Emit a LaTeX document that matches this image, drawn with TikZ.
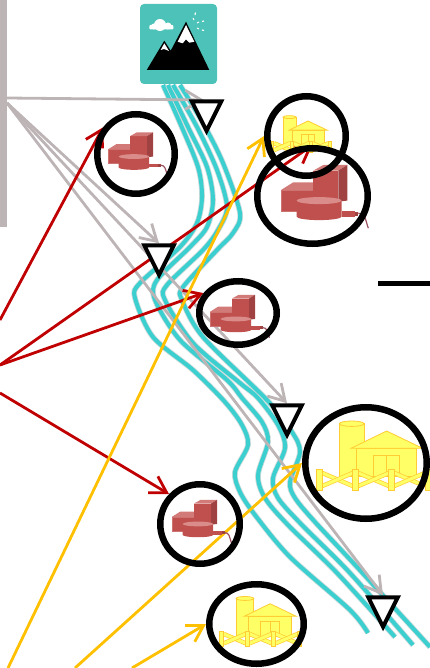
\documentclass[tikz,border=0pt]{standalone}
\usepackage{xcolor}
\usepackage{tikz}
\usetikzlibrary{arrows.meta,shapes.geometric,backgrounds}
\definecolor{FlowTeal}{HTML}{3CCFCF}
\definecolor{FlowHalo}{HTML}{C9DADA}
\definecolor{TileTeal}{HTML}{4DC2B8}
\definecolor{LinkGrey}{HTML}{BDB4B6}
\definecolor{LinkRed}{HTML}{C00000}
\definecolor{LinkGold}{HTML}{FFC000}
\definecolor{PlantRed}{HTML}{C0504D}
\definecolor{PlantDark}{HTML}{A04242}
\definecolor{PlantLight}{HTML}{D98C8A}
\definecolor{PlantCable}{HTML}{9B5060}
\definecolor{FarmYellow}{HTML}{FFFF66}
\definecolor{FarmEdge}{HTML}{FFCC33}
\tikzset{
  flowline/.style={draw=FlowTeal,line width=4pt,preaction={draw=FlowHalo,line width=5.6pt}},
  ring/.style={draw=black,ellipse,line width=6.5pt,inner sep=0pt},
  gauge/.style={draw=black,fill=white,line width=4pt,line join=miter,isosceles triangle,isosceles triangle stretches,shape border rotate=-90,inner sep=0pt,minimum width=29.5pt,minimum height=29.5pt,anchor=apex},
  greylink/.style={->,draw=LinkGrey,line width=2.8pt},
  redlink/.style={->,draw=LinkRed,line width=2.8pt},
  goldlink/.style={->,draw=LinkGold,line width=2.8pt},
  redplant/.pic={
    \path[fill=PlantRed,draw=PlantRed!80,thin] (-32.3,-3.3) rectangle (0,17.7);
    \path[fill=PlantLight!70!PlantRed] (-32.3,-3.3)--(-20,-11)--(0,-11)--(0,-3.3)--cycle;
    \path[fill=PlantRed] (0,-22.7) rectangle (25,8.3);
    \path[fill=PlantLight!70!PlantRed] (0,-22.7)--(10,-28.3)--(34,-28.3)--(25,-22.7)--cycle;
    \path[fill=PlantDark] (25,-22.7)--(34,-28.3)--(34,7.3)--(25,8.3)--cycle;
    \path[fill=PlantRed] (28.3,17.7) rectangle (41.7,23.3);
    \path[fill=PlantDark] (41.7,18.3) rectangle (45,22.7);
    \draw[PlantCable,line width=1.2pt] (45,20) .. controls (52,20) and (52,26) .. (55,35);
    \path[fill=PlantRed] (-16.7,7.3)--(-16.7,23.3) arc[start angle=180,end angle=0,x radius=22.5,y radius=3.5]--(28.3,7.3)--cycle;
    \path[fill=PlantLight] (5.8,7.3) ellipse[x radius=22.5,y radius=3.5];
  },
  farmbar/.style={draw=FarmEdge,double=FarmYellow,line width=.7pt,double distance=3pt},
  farmpart/.style={draw=FarmEdge,fill=FarmYellow,line width=.8pt},
  yellowfarm/.pic={
    \path[farmpart] (-34,-31.3)--(-34,21.7)--(-9.3,21.7)--(-9.3,-31.3)--cycle;
    \path[farmpart] (-21.65,-31.3) ellipse[x radius=12.35,y radius=2.7];
    \path[farmpart] (-16.7,-6.7) rectangle (43.3,21.7);
    \path[farmpart] (-22.3,-6.7)--(13.3,-24)--(49.3,-6.7)--cycle;
    \path[farmpart] (0,0.7) rectangle (26,21.7);
    \draw[FarmEdge,line width=.8pt] (13.3,0.7)--(13.3,21.7);
    \foreach \barx in {-51,-15,21} {
      \draw[farmbar] (\barx,18)--(\barx+30.5,31);
      \draw[farmbar] (\barx,31)--(\barx+30.5,18);
    }
    \foreach \barx in {-56.7,-20.7,15.3,51.7}
      \path[farmpart] (\barx,14) rectangle (\barx+5.5,35);
  },
}
\begin{document}
\begin{tikzpicture}[x=1pt,y=-1pt,>={Straight Barb[length=16pt,width=19pt]}]
    \useasboundingbox (0,0) rectangle (430,668);
    \node[fill=LinkGrey,inner sep=0pt,minimum width=7pt,minimum height=227pt] (sourcebar) at (3.5,113.5) {};
    \node[fill=TileTeal,rounded corners=4pt,inner sep=0pt,minimum width=77pt,minimum height=80pt] (peaktile) at (178.5,44) {};
    \fill[black] (146.7,70)--(164.3,40.7)--(170.7,50.7)--(186,21.7)--(209.3,70)--cycle;
    \fill[white] (186,25)--(177.7,41.7)--(182.7,43.3)--(186,39.3)--(189.3,42.7)--(194.3,41.7)--cycle;
    \fill[white] (164.3,43.3)--(160.7,50)--(164,49)--(169,51)--cycle;
    \fill[white] (160,25) circle[radius=6];
    \fill[white] (154,26.5) circle[radius=3];
    \fill[white] (168,26) circle[radius=3.5];
    \fill[white,rounded corners=1pt] (149.3,25) rectangle (173.3,29.5);
    \draw[white,line width=1.1pt] (195.5,12.5)--(195,15) (193,18)--(194,20) (197,23)--(199,22) (202,21.5)--(204,21) (197,28)--(199,29) (202,30)--(204,30.5);
    \pic[scale=.68] at (130,151.6) {redplant};
    \pic at (313.3,193.3) {redplant};
    \pic[scale=.68] at (232,314) {redplant};
    \pic[scale=.68] at (194,519) {redplant};
    \pic[scale=.53] at (301,133.7) {yellowfarm};
    \pic at (373.3,455) {yellowfarm};
    \pic[scale=.72] at (260.5,621) {yellowfarm};
    \node[ring,minimum width=77.5pt,minimum height=79.5pt] (plantA) at (136,154) {};
    \node[ring,minimum width=110.5pt,minimum height=95.5pt] (plantB) at (312.5,196) {};
    \node[ring,minimum width=78.5pt,minimum height=79.5pt] (farmA) at (306.5,136) {};
    \node[ring,minimum width=77.5pt,minimum height=63.5pt] (plantC) at (238,313) {};
    \node[ring,minimum width=121.5pt,minimum height=111.5pt] (farmB) at (366,463) {};
    \node[ring,minimum width=79.5pt,minimum height=79.5pt] (plantD) at (200,524) {};
    \node[ring,minimum width=94.5pt,minimum height=79.5pt] (farmC) at (256.5,624) {};
    \node[gauge] (gaugeA) at (206.5,136) {};
    \node[gauge] (gaugeB) at (159,280) {};
    \node[gauge] (gaugeC) at (287,440) {};
    \node[gauge] (gaugeD) at (383,632) {};
    \draw[black,line width=5pt] (378,283)--(430,283);
    \coordinate (barhigh) at (7,98);
    \coordinate (barlow) at (7,103);
    \coordinate (gaugeAin) at (204,100);
    \coordinate (redsrcA) at (0,320);
    \coordinate (redsrcB) at (0,365);
    \coordinate (redsrcC) at (0,393);
    \coordinate (goldsrcA) at (8,668);
    \coordinate (goldsrcB) at (75,668);
    \coordinate (goldsrcC) at (132,668);
    \begin{scope}[on background layer]
      \path[flowline] plot[smooth] coordinates {(163,85) (180,123) (198,167) (202,197) (197,223) (180,247) (140,283) (135,298) (153,337) (193,370) (225,402) (242,425) (248,445) (235,472) (240,492) (255,515) (290,557) (350,610) (368,633)};
      \path[flowline] plot[smooth] coordinates {(168,85) (188,127) (207,167) (213,200) (207,227) (190,247) (157,280) (155,300) (180,340) (227,380) (242,398) (262,422) (268,442) (258,475) (265,498) (288,525) (337,573) (395,637)};
      \path[flowline] plot[smooth] coordinates {(173,85) (197,127) (217,170) (227,207) (218,230) (203,250) (167,285) (165,300) (193,343) (240,383) (258,398) (278,425) (285,448) (273,478) (278,498) (302,525) (350,573) (413,645)};
      \path[flowline] plot[smooth] coordinates {(180,85) (203,123) (223,163) (240,213) (233,233) (217,250) (183,287) (182,300) (203,337) (267,400) (292,432) (300,452) (290,482) (295,498) (315,522) (357,567) (430,647)};
      \draw[greylink] (barhigh)--(gaugeAin);
      \draw[greylink] (barlow)--(gaugeB.north);
      \draw[greylink] (barlow)--(gaugeC.north);
      \draw[greylink] (barlow)--(gaugeD.north);
      \draw[redlink] (redsrcA)--(plantA.141);
      \draw[redlink] (redsrcB)--(plantB.north);
      \draw[redlink] (redsrcB)--(plantC.150);
      \draw[redlink] (redsrcC)--(plantD.136);
      \draw[goldlink] (goldsrcA)--(farmA.west);
      \draw[goldlink] (goldsrcB)--(farmB.west);
      \draw[goldlink] (goldsrcC)--(farmC.west);
    \end{scope}
  \end{tikzpicture}
\end{document}
